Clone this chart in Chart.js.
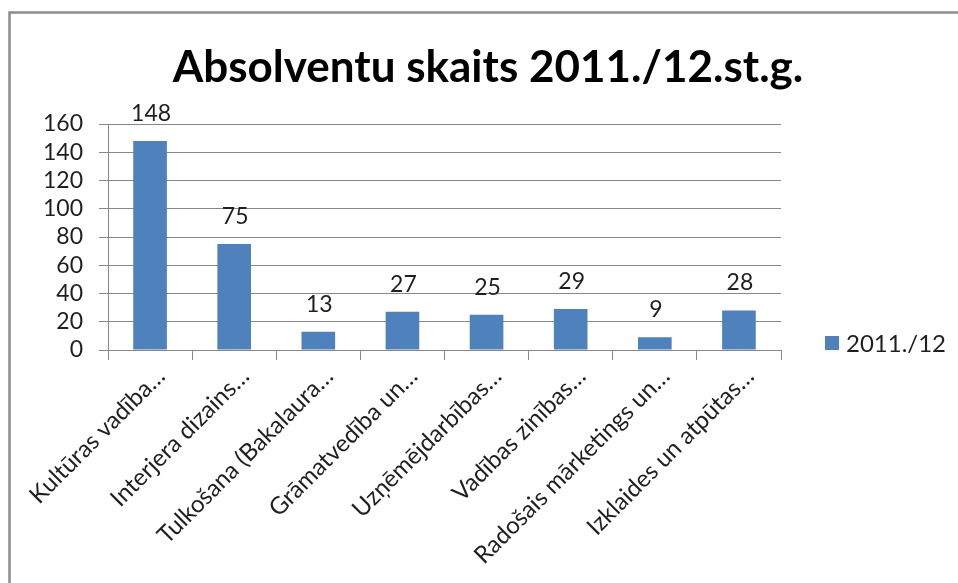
<!DOCTYPE html>
<html>
<head>
<meta charset="utf-8">
<script src="https://cdn.jsdelivr.net/npm/chart.js@4/dist/chart.umd.min.js"></script>
<style>
html,body{margin:0;padding:0;background:#fff;}
#wrap{width:958px;height:583px;position:relative;}
</style>
</head>
<body>
<div id="wrap"><canvas id="c" width="958" height="583"></canvas></div>
<script>
const chartTitle = "Absolventu skaits 2011./12.st.g.";
const categories = [
  "Kultūras vadība…",
  "Interjera dizains…",
  "Tulkošana (Bakalaura…",
  "Grāmatvedība un…",
  "Uzņēmējdarbības…",
  "Vadības zinības…",
  "Radošais mārketings un…",
  "Izklaides un atpūtas…"
];
const seriesName = "2011./12";
const seriesValues = [148, 75, 13, 27, 25, 29, 9, 28];
const yTicks = [0, 20, 40, 60, 80, 100, 120, 140, 160];

const FONT = "Lato";
const BAR = "#4F81BD";
const GRID = "#878787";
const TEXT = "#1f1f1f";

const decor = {
  id: "decor",
  beforeDraw(chart) {
    const ctx = chart.ctx;
    ctx.save();
    ctx.fillStyle = "#fff";
    ctx.fillRect(0, 0, chart.width, chart.height);
    ctx.strokeStyle = "#8c8c8c";
    ctx.lineWidth = 2.5;
    ctx.beginPath();
    ctx.moveTo(9.5, chart.height + 5);
    ctx.lineTo(9.5, 12.5);
    ctx.lineTo(chart.width + 5, 12.5);
    ctx.stroke();
    ctx.restore();
  },
  afterDraw(chart) {
    const ctx = chart.ctx;
    const area = chart.chartArea;
    ctx.save();
    // title
    ctx.fillStyle = "#000";
    ctx.font = "bold 44px " + FONT;
    ctx.textAlign = "center";
    ctx.textBaseline = "alphabetic";
    ctx.fillText(chartTitle, 488, 82);
    // data labels
    ctx.font = "23px " + FONT;
    ctx.fillStyle = TEXT;
    const meta = chart.getDatasetMeta(0);
    meta.data.forEach((bar, i) => {
      ctx.fillText(String(chart.data.datasets[0].data[i]), bar.x + 1, bar.y - 20);
    });
    // legend
    const lx = area.right + 44, ly = area.bottom - 7;
    ctx.fillStyle = BAR;
    ctx.fillRect(lx, ly - 7, 14, 14);
    ctx.fillStyle = TEXT;
    ctx.textAlign = "left";
    ctx.textBaseline = "middle";
    ctx.font = "24px " + FONT;
    ctx.fillText(seriesName, lx + 21, ly + 1);
    ctx.restore();
  }
};

new Chart(document.getElementById("c"), {
  type: "bar",
  data: {
    labels: categories,
    datasets: [{
      label: seriesName,
      data: seriesValues,
      backgroundColor: BAR,
      borderWidth: 0,
      categoryPercentage: 1.0,
      barPercentage: 0.4
    }]
  },
  options: {
    responsive: false,
    animation: false,
    devicePixelRatio: 1,
    layout: { padding: { left: 10, top: 124, right: 177, bottom: 0 } },
    plugins: {
      legend: { display: false },
      title: { display: false },
      tooltip: { enabled: false }
    },
    scales: {
      x: {
        offset: true,
        grid: { display: true, drawOnChartArea: false, drawTicks: true, tickLength: 10, color: GRID, offset: true },
        border: { color: GRID, width: 1 },
        ticks: {
          autoSkip: false, minRotation: 45, maxRotation: 45, labelOffset: 11,
          color: TEXT, font: { family: FONT, size: 24 }, padding: 2
        },
        afterFit(scale) { scale.height = 233; }
      },
      y: {
        min: 0, max: 160,
        afterBuildTicks(scale) { scale.ticks = yTicks.map(v => ({ value: v })); },
        grid: { color: GRID, tickLength: 9, drawTicks: true },
        border: { color: GRID, width: 1 },
        ticks: { autoSkip: false, color: TEXT, font: { family: FONT, size: 23 }, padding: 16 },
        afterFit(scale) { scale.width = 98; }
      }
    }
  },
  plugins: [decor]
});
</script>
</body>
</html>
